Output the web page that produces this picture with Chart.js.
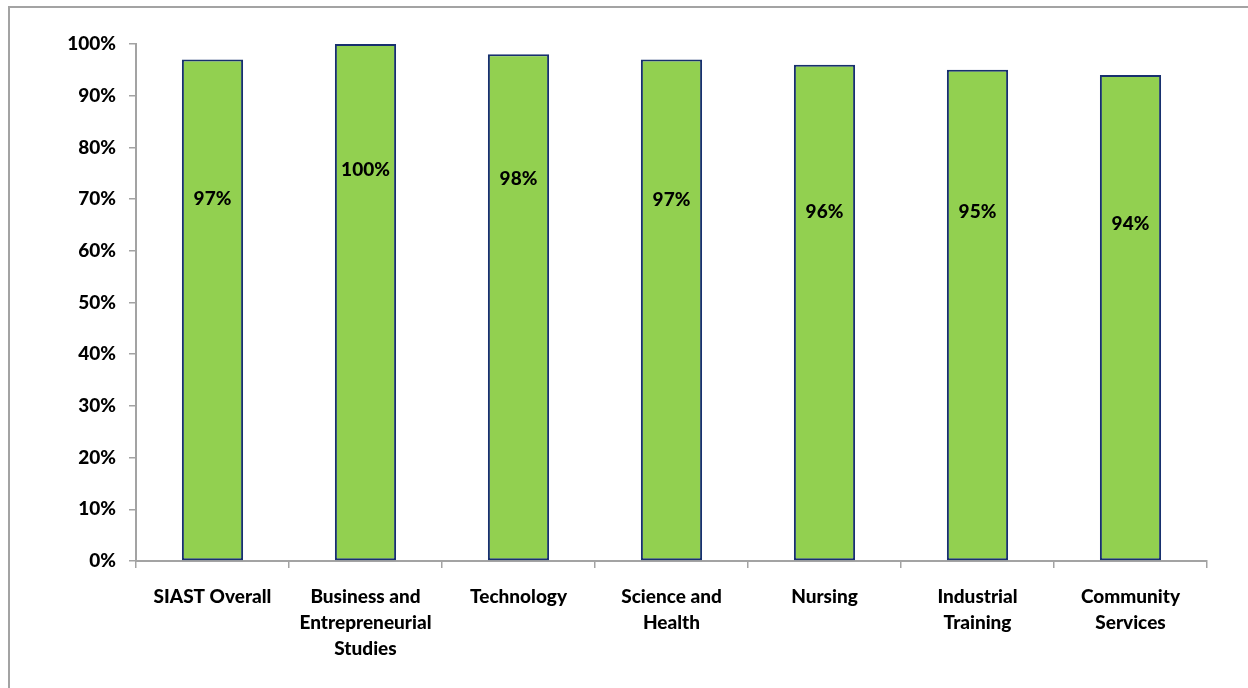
<!DOCTYPE html>
<html>
<head>
<meta charset="utf-8">
<script src="https://cdn.jsdelivr.net/npm/chart.js@4/dist/chart.umd.min.js"></script>
<style>
    html, body { margin: 0; padding: 0; background: #fff; overflow: hidden; }
    #wrap { position: relative; width: 1248px; height: 688px; }
    #frame {
        position: absolute; left: 8px; top: 6px; width: 1260px; height: 700px;
        border-left: 2px solid #a3a3a3; border-top: 2px solid #a3a3a3;
    }
    #myChart { position: absolute; left: 0; top: 0; }
</style>
</head>
<body>
<div id="wrap">
    <div id="frame"></div>
    <canvas id="myChart" width="1248" height="688"></canvas>
</div>
<script>
"use strict";

// категории (подписи оси X, многострочные)
const categories = [
    ['SIAST Overall'],
    ['Business and', 'Entrepreneurial', 'Studies'],
    ['Technology'],
    ['Science and', 'Health'],
    ['Nursing'],
    ['Industrial', 'Training'],
    ['Community', 'Services']
];
// значения в процентах
const values = [97, 100, 98, 97, 96, 95, 94];
// подписи делений оси Y
const yTicks = [0, 10, 20, 30, 40, 50, 60, 70, 80, 90, 100];
// на какой высоте (в % шкалы) стоит подпись над каждым столбцом
const labelAt = [70.1, 75.6, 73.9, 69.9, 67.5, 67.6, 65.3];

const FONT = 'Lato, "DejaVu Sans", sans-serif';
const AXIS = '#a3a3a3';

// плагин подписей значений внутри столбцов
const valueLabels = {
    id: 'valueLabels',
    afterDatasetsDraw(chart) {
        const ctx = chart.ctx;
        const y = chart.scales.y;
        const meta = chart.getDatasetMeta(0);
        ctx.save();
        ctx.font = '900 19px ' + FONT;
        ctx.fillStyle = '#000';
        ctx.textAlign = 'center';
        ctx.textBaseline = 'middle';
        meta.data.forEach(function (bar, i) {
            ctx.fillText(values[i] + '%', bar.x, y.getPixelForValue(labelAt[i]));
        });
        ctx.restore();
    }
};

const ctx = document.getElementById('myChart');
const myChart = new Chart(ctx, {
    type: 'bar',
    data: {
        labels: categories,
        datasets: [{
            data: values,
            backgroundColor: '#92d050',
            borderColor: '#17306e',
            borderWidth: 2,
            borderSkipped: false,
            barPercentage: 0.4,
            categoryPercentage: 1
        }]
    },
    options: {
        responsive: false,
        animation: false,
        layout: { padding: { left: 0, right: 41, top: 44, bottom: 0 } },
        plugins: {
            legend: { display: false },
            tooltip: { enabled: false }
        },
        scales: {
            x: {
                afterFit(scale) { scale.height = 127; },
                grid: {
                    offset: true,
                    drawOnChartArea: false,
                    tickLength: 7,
                    color: AXIS,
                    lineWidth: 1.5
                },
                border: { color: AXIS, width: 2 },
                ticks: {
                    padding: 16,
                    maxRotation: 0,
                    autoSkip: false,
                    color: '#000',
                    font: { family: FONT, size: 19, weight: 900, lineHeight: 1.36 }
                }
            },
            y: {
                min: 0,
                max: 100,
                afterFit(scale) { scale.width = 136; },
                afterBuildTicks(scale) {
                    scale.ticks = yTicks.map(v => ({ value: v }));
                },
                grid: {
                    drawOnChartArea: false,
                    tickLength: 7,
                    color: AXIS,
                    lineWidth: 1.5
                },
                border: { color: AXIS, width: 2 },
                ticks: {
                    padding: 13,
                    color: '#000',
                    font: { family: FONT, size: 19, weight: 900 },
                    callback: v => v + '%'
                }
            }
        }
    },
    plugins: [valueLabels]
});
</script>
</body>
</html>
